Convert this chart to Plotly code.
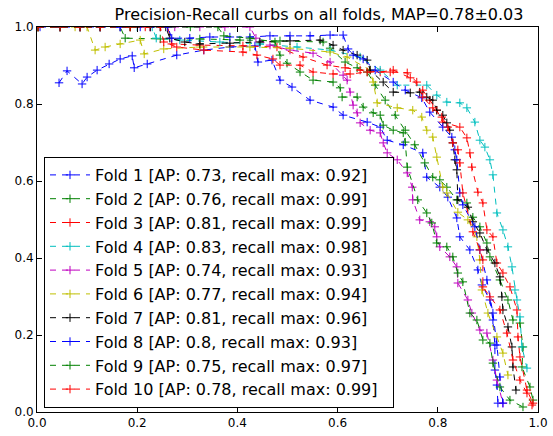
import plotly.graph_objects as go

# ---- data (recall, precision) ----
recall_f1 = [0.044, 0.060, 0.090, 0.100, 0.120, 0.144, 0.166, 0.190, 0.194, 0.220, 0.279, 0.333, 0.385, 0.435,
             0.441, 0.469, 0.485, 0.509, 0.545, 0.591, 0.611, 0.659, 0.685, 0.699, 0.731, 0.770, 0.778, 0.804,
             0.820, 0.838, 0.844, 0.864, 0.880, 0.888, 0.904, 0.910, 0.914, 0.914, 0.918, 0.920]
precision_f1 = [0.855, 0.886, 0.852, 0.870, 0.888, 0.904, 0.917, 0.925, 0.894, 0.904, 0.927, 0.940, 0.948, 0.951,
                0.909, 0.914, 0.862, 0.844, 0.810, 0.792, 0.771, 0.753, 0.740, 0.706, 0.694, 0.673, 0.610, 0.584,
                0.558, 0.504, 0.455, 0.421, 0.369, 0.330, 0.291, 0.239, 0.174, 0.109, 0.070, 0.023]

recall_f2 = [0.002, 0.046, 0.086, 0.126, 0.166, 0.176, 0.246, 0.325, 0.405, 0.485, 0.571, 0.585, 0.615, 0.639,
             0.659, 0.675, 0.695, 0.715, 0.735, 0.754, 0.774, 0.790, 0.804, 0.818, 0.838, 0.858, 0.870, 0.884,
             0.898, 0.904, 0.924, 0.940, 0.950, 0.964, 0.970, 0.968, 0.984, 0.990]
precision_f2 = [1.0, 1.0, 1.0, 1.0, 1.0, 0.971, 0.969, 0.969, 0.966, 0.964, 0.961, 0.945, 0.909, 0.894,
                0.883, 0.849, 0.810, 0.771, 0.732, 0.694, 0.647, 0.610, 0.603, 0.584, 0.551, 0.543, 0.506, 0.481,
                0.439, 0.403, 0.343, 0.291, 0.239, 0.231, 0.169, 0.117, 0.065, 0.031]

recall_f3 = [0.002, 0.046, 0.086, 0.126, 0.186, 0.226, 0.261, 0.269, 0.325, 0.411, 0.479, 0.531, 0.579, 0.615,
             0.645, 0.685, 0.711, 0.745, 0.770, 0.784, 0.798, 0.810, 0.844, 0.858, 0.864, 0.868, 0.880, 0.890,
             0.898, 0.910, 0.918, 0.930, 0.944, 0.958, 0.960, 0.964, 0.978, 0.990]
precision_f3 = [1.0, 1.0, 1.0, 1.0, 1.0, 1.0, 1.0, 0.956, 0.953, 0.951, 0.948, 0.922, 0.901, 0.894,
                0.888, 0.883, 0.888, 0.868, 0.836, 0.810, 0.784, 0.753, 0.740, 0.712, 0.673, 0.636, 0.571, 0.543,
                0.473, 0.455, 0.387, 0.361, 0.325, 0.265, 0.195, 0.143, 0.057, 0.023]

recall_f4 = [0.002, 0.046, 0.086, 0.126, 0.166, 0.200, 0.230, 0.238, 0.285, 0.365, 0.445, 0.519, 0.585, 0.645,
             0.685, 0.719, 0.778, 0.798, 0.818, 0.844, 0.858, 0.874, 0.884, 0.894, 0.904, 0.910, 0.918, 0.930,
             0.940, 0.948, 0.954, 0.958, 0.964, 0.968, 0.978]
precision_f4 = [1.0, 1.0, 1.0, 1.0, 1.0, 1.0, 1.0, 0.971, 0.966, 0.961, 0.956, 0.948, 0.940, 0.922,
                0.888, 0.849, 0.849, 0.823, 0.805, 0.803, 0.790, 0.753, 0.706, 0.688, 0.655, 0.616, 0.517, 0.473,
                0.429, 0.377, 0.317, 0.291, 0.247, 0.169, 0.114]

recall_f5 = [0.002, 0.046, 0.086, 0.126, 0.166, 0.226, 0.275, 0.325, 0.375, 0.425, 0.437, 0.465, 0.505, 0.551,
             0.585, 0.611, 0.619, 0.625, 0.631, 0.639, 0.645, 0.665, 0.685, 0.691, 0.699, 0.719, 0.739, 0.749,
             0.750, 0.764, 0.784, 0.794, 0.798, 0.804, 0.824, 0.838, 0.840, 0.860, 0.868, 0.884, 0.898, 0.910,
             0.918, 0.930]
precision_f5 = [1.0, 1.0, 1.0, 1.0, 1.0, 1.0, 1.0, 1.0, 1.0, 1.0, 0.971, 0.953, 0.940, 0.932,
                0.909, 0.875, 0.862, 0.831, 0.797, 0.777, 0.751, 0.732, 0.725, 0.699, 0.673, 0.655, 0.621, 0.584,
                0.551, 0.499, 0.494, 0.481, 0.455, 0.429, 0.403, 0.377, 0.335, 0.291, 0.257, 0.213, 0.205, 0.135,
                0.083, 0.023]

recall_f6 = [0.002, 0.046, 0.076, 0.100, 0.116, 0.136, 0.166, 0.206, 0.214, 0.253, 0.325, 0.425, 0.505, 0.585,
             0.619, 0.665, 0.671, 0.679, 0.719, 0.750, 0.768, 0.778, 0.790, 0.798, 0.810, 0.818, 0.840, 0.860,
             0.878, 0.884, 0.888, 0.900, 0.918, 0.930, 0.940]
precision_f6 = [1.0, 1.0, 1.0, 1.0, 0.940, 0.948, 0.956, 0.966, 0.930, 0.943, 0.948, 0.948, 0.945, 0.935,
                0.922, 0.888, 0.857, 0.803, 0.790, 0.784, 0.766, 0.732, 0.714, 0.662, 0.584, 0.569, 0.519, 0.499,
                0.455, 0.395, 0.317, 0.257, 0.195, 0.153, 0.096]

recall_f7 = [0.002, 0.046, 0.086, 0.126, 0.186, 0.226, 0.257, 0.265, 0.295, 0.325, 0.385, 0.445, 0.505, 0.565,
             0.591, 0.611, 0.639, 0.659, 0.665, 0.691, 0.711, 0.745, 0.764, 0.778, 0.790, 0.798, 0.810, 0.818,
             0.824, 0.830, 0.834, 0.838, 0.840, 0.860, 0.870, 0.884, 0.898, 0.914, 0.924, 0.928, 0.930, 0.940,
             0.948, 0.950, 0.956]
precision_f7 = [1.0, 1.0, 1.0, 1.0, 1.0, 1.0, 1.0, 0.971, 0.961, 0.956, 0.958, 0.961, 0.964, 0.966,
                0.953, 0.940, 0.927, 0.914, 0.888, 0.857, 0.831, 0.829, 0.831, 0.818, 0.810, 0.784, 0.771, 0.751,
                0.732, 0.699, 0.655, 0.629, 0.551, 0.532, 0.494, 0.465, 0.421, 0.387, 0.351, 0.299, 0.265, 0.221,
                0.169, 0.117, 0.057]

recall_f8 = [0.006, 0.046, 0.086, 0.126, 0.166, 0.206, 0.246, 0.261, 0.269, 0.305, 0.345, 0.385, 0.425, 0.465,
             0.505, 0.545, 0.585, 0.611, 0.621, 0.631, 0.651, 0.675, 0.711, 0.735, 0.768, 0.784, 0.810, 0.828,
             0.834, 0.838, 0.844, 0.850, 0.874, 0.884, 0.898, 0.910, 0.918, 0.924, 0.930]
precision_f8 = [1.0, 1.0, 1.0, 1.0, 1.0, 1.0, 1.0, 1.0, 0.971, 0.971, 0.974, 0.974, 0.974, 0.977,
                0.977, 0.977, 0.979, 0.979, 0.943, 0.927, 0.917, 0.888, 0.857, 0.836, 0.816, 0.779, 0.740, 0.714,
                0.681, 0.655, 0.569, 0.538, 0.481, 0.421, 0.343, 0.257, 0.174, 0.091, 0.023]

recall_f9 = [0.002, 0.046, 0.086, 0.126, 0.186, 0.246, 0.306, 0.361, 0.373, 0.425, 0.475, 0.485, 0.499, 0.525,
             0.551, 0.591, 0.605, 0.609, 0.639, 0.651, 0.671, 0.685, 0.691, 0.711, 0.731, 0.735, 0.739, 0.760,
             0.778, 0.788, 0.798, 0.818, 0.830, 0.840, 0.850, 0.864, 0.878, 0.890, 0.904, 0.910, 0.924, 0.944,
             0.970]
precision_f9 = [1.0, 1.0, 1.0, 1.0, 1.0, 1.0, 1.0, 1.0, 0.977, 0.971, 0.961, 0.927, 0.906, 0.883,
                0.862, 0.857, 0.842, 0.818, 0.818, 0.792, 0.777, 0.771, 0.745, 0.732, 0.725, 0.701, 0.636, 0.551,
                0.517, 0.491, 0.439, 0.429, 0.403, 0.361, 0.338, 0.257, 0.239, 0.187, 0.179, 0.127, 0.065, 0.031,
                0.013]

recall_f10 = [0.002, 0.046, 0.086, 0.126, 0.186, 0.216, 0.246, 0.253, 0.279, 0.333, 0.411, 0.439, 0.471, 0.485,
              0.525, 0.551, 0.591, 0.625, 0.659, 0.705, 0.739, 0.758, 0.770, 0.790, 0.808, 0.820, 0.830, 0.840,
              0.844, 0.850, 0.870, 0.884, 0.890, 0.890, 0.904, 0.924, 0.938, 0.950, 0.964, 0.978, 0.988]
precision_f10 = [1.0, 1.0, 1.0, 1.0, 1.0, 1.0, 1.0, 0.961, 0.948, 0.940, 0.935, 0.927, 0.917, 0.901,
                 0.901, 0.883, 0.878, 0.878, 0.883, 0.883, 0.881, 0.857, 0.818, 0.790, 0.766, 0.740, 0.699, 0.681,
                 0.647, 0.569, 0.468, 0.421, 0.395, 0.325, 0.299, 0.265, 0.205, 0.135, 0.083, 0.049, 0.018]

ap_values = ["0.73", "0.76", "0.81", "0.83", "0.74", "0.77", "0.81", "0.8", "0.75", "0.78"]
recall_max = ["0.92", "0.99", "0.99", "0.98", "0.93", "0.94", "0.96", "0.93", "0.97", "0.99"]
fold_names = ["Fold %d" % i for i in range(1, 11)]
title_text = "Precision-Recall curbs on all folds, MAP=0.78\u00b10.03"
axis_ticks = [0.0, 0.2, 0.4, 0.6, 0.8, 1.0]

recalls = [recall_f1, recall_f2, recall_f3, recall_f4, recall_f5,
           recall_f6, recall_f7, recall_f8, recall_f9, recall_f10]
precisions = [precision_f1, precision_f2, precision_f3, precision_f4, precision_f5,
              precision_f6, precision_f7, precision_f8, precision_f9, precision_f10]

# ---- styles ----
colors = ["#0000ff", "#008000", "#ff0000", "#00bfbf", "#bf00bf",
          "#bfbf00", "#000000", "#0000ff", "#008000", "#ff0000"]

fig = go.Figure()
for i in range(10):
    fig.add_trace(go.Scatter(
        x=recalls[i], y=precisions[i],
        mode="lines+markers",
        name="%s [AP: %s, recall max: %s]\u00a0\u00a0" % (fold_names[i], ap_values[i], recall_max[i]),
        line=dict(color=colors[i], width=1, dash="6px,6px"),
        marker=dict(symbol="cross-thin", size=6, color=colors[i],
                    line=dict(width=1, color=colors[i])),
        legendgroup="g%d" % i,
    ))

font_family = "DejaVu Sans, Liberation Sans, sans-serif"
axis_common = dict(
    tickvals=axis_ticks,
    ticktext=["%.1f" % v for v in axis_ticks],
    ticks="inside", ticklen=5, tickwidth=1, tickcolor="black",
    showline=True, linecolor="black", linewidth=1, mirror="allticks",
    showgrid=False, zeroline=False, automargin=False,
    tickfont=dict(family=font_family, size=12, color="black"),
)

fig.update_layout(
    width=553, height=436,
    margin=dict(l=37, r=15, t=27, b=24, autoexpand=False),
    paper_bgcolor="white", plot_bgcolor="white",
    title=dict(text=title_text, x=319 / 553, xanchor="center", xref="container",
               y=1 - 14 / 436, yanchor="middle", yref="container", automargin=False,
               font=dict(family=font_family, size=16, color="black")),
    xaxis=dict(range=[0, 1], **axis_common),
    yaxis=dict(range=[0, 1], **axis_common),
    showlegend=True,
    legend=dict(x=7 / 501, y=4 / 385, xanchor="left", yanchor="bottom",
                bgcolor="white", bordercolor="black", borderwidth=1,
                font=dict(family=font_family, size=16, color="black"),
                tracegroupgap=0, itemwidth=40),
)

fig.write_html("out.html", config={"displayModeBar": False},
               post_script="document.body.style.margin='0';")
